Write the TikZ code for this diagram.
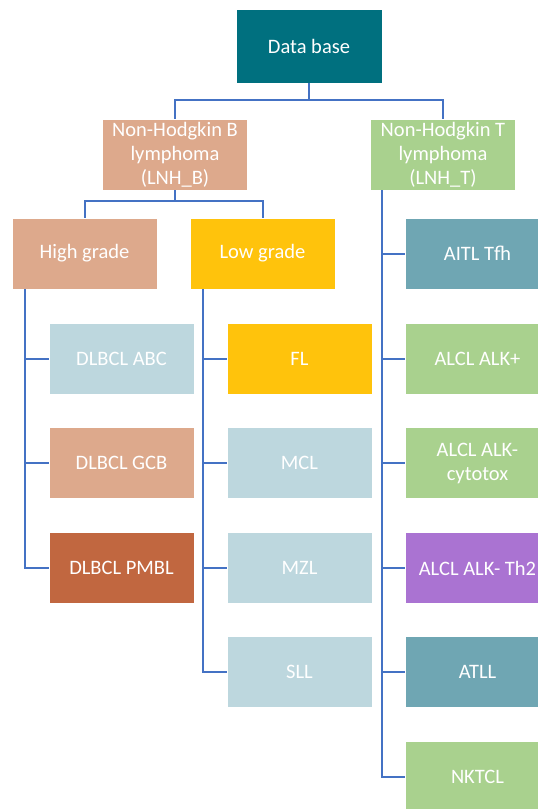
\documentclass[tikz,border=0pt]{standalone}
\usepackage{fontspec}
\setmainfont{Carlito}
\definecolor{dbteal}{RGB}{0,112,127}
\definecolor{salmon}{RGB}{221,169,140}
\definecolor{leafgreen}{RGB}{169,209,142}
\definecolor{gold}{RGB}{255,195,12}
\definecolor{paleblue}{RGB}{189,215,222}
\definecolor{steel}{RGB}{111,166,179}
\definecolor{rust}{RGB}{193,103,64}
\definecolor{lilac}{RGB}{170,115,210}
\definecolor{linkblue}{RGB}{68,114,196}
\begin{document}
\begin{tikzpicture}[x=1pt,y=-1pt,
    box/.style={draw=white,line width=0.8pt,minimum width=145pt,minimum height=71pt,
        inner sep=0pt,align=center,text=white,font=\fontsize{20.5}{24}\selectfont},
    flow/.style={draw=linkblue,line width=2pt}
]
    \clip (0,0) rectangle (538,809);
    \fill[white] (0,0) rectangle (538,809);

    \node[box,fill=dbteal,minimum width=146pt,minimum height=74pt] (db) at (309,46) {Data base};
    \node[box,fill=salmon] (lnhb) at (175,154.5) {Non-Hodgkin B\\lymphoma\\(LNH\_B)};
    \node[box,fill=leafgreen] (lnht) at (443,154.5) {Non-Hodgkin T\\lymphoma\\(LNH\_T)};

    \node[box,fill=salmon] (high) at (84.5,253.5) {High grade};
    \node[box,fill=gold] (low) at (262.5,253.5) {Low grade};

    \node[box,fill=paleblue] (abc) at (121.5,358.5) {DLBCL ABC};
    \node[box,fill=salmon] (gcb) at (121.5,463) {DLBCL GCB};
    \node[box,fill=rust] (pmbl) at (121.5,568) {DLBCL PMBL};

    \node[box,fill=gold] (fl) at (299.5,358.5) {FL};
    \node[box,fill=paleblue] (mcl) at (299.5,463) {MCL};
    \node[box,fill=paleblue] (mzl) at (299.5,568) {MZL};
    \node[box,fill=paleblue] (sll) at (299.5,672) {SLL};

    \node[box,fill=steel] (aitl) at (477.5,253.5) {AITL Tfh};
    \node[box,fill=leafgreen] (alkpos) at (477.5,358.5) {ALCL ALK+};
    \node[box,fill=leafgreen] (cytotox) at (477.5,463) {ALCL ALK-\\cytotox};
    \node[box,fill=lilac] (th2) at (477.5,568) {ALCL ALK- Th2};
    \node[box,fill=steel] (atll) at (477.5,672) {ATLL};
    \node[box,fill=leafgreen] (nktcl) at (477.5,777) {NKTCL};

    \draw[flow] (db.south) -- ++(0,17) -| (lnhb.north);
    \draw[flow] (db.south) -- ++(0,17) -| (lnht.north);
    \draw[flow] (lnhb.south) -- ++(0,11) -| (high.north);
    \draw[flow] (lnhb.south) -- ++(0,11) -| (low.north);

    \foreach \leaf in {abc,gcb,pmbl}
        \draw[flow] ([xshift=13pt]high.south west) |- (\leaf.west);
    \foreach \leaf in {fl,mcl,mzl,sll}
        \draw[flow] ([xshift=13pt]low.south west) |- (\leaf.west);
    \foreach \leaf in {aitl,alkpos,cytotox,th2,atll,nktcl}
        \draw[flow] ([xshift=12pt]lnht.south west) |- (\leaf.west);
\end{tikzpicture}
\end{document}
